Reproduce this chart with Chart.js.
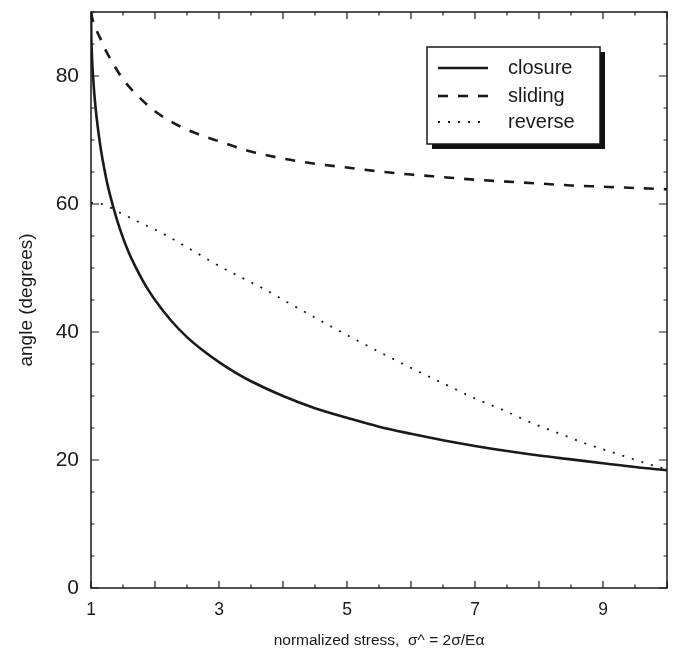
<!DOCTYPE html>
<html>
<head>
<meta charset="utf-8">
<script src="https://cdn.jsdelivr.net/npm/chart.js"></script>
<style>
  html, body { margin: 0; padding: 0; background: #fff; }
  #wrap { width: 677px; height: 654px; }
</style>
</head>
<body>
<div id="wrap"><canvas id="angleChart" width="677" height="654"></canvas></div>
<script>
// values
const closureX = [1, 1.005, 1.01, 1.02, 1.03, 1.05, 1.075, 1.1, 1.15, 1.2, 1.25, 1.3, 1.4, 1.5, 1.6, 1.7, 1.8, 1.9, 2,
  2.25, 2.5, 2.75, 3, 3.25, 3.5, 4, 4.5, 5, 5.5, 6, 6.5, 7, 7.5, 8, 8.5, 9, 9.5, 10];
const closureY = [90, 86, 84.3, 81.9, 80.2, 77.4, 74.7, 72.5, 68.8, 65.9, 63.4, 61.3, 57.7, 54.7, 52.2, 50.1, 48.2, 46.5, 45,
  41.8, 39.2, 37.1, 35.3, 33.7, 32.3, 30, 28.1, 26.6, 25.2, 24.1, 23.1, 22.2, 21.4, 20.7, 20.1, 19.5, 18.9, 18.4];

const slidingX = [1, 1.02, 1.07, 1.14, 1.23, 1.33, 1.5, 1.75, 2, 2.3, 2.6, 3, 3.5, 4, 4.5, 5, 5.5, 6, 6.5, 7, 7.5, 8, 8.5, 9, 9.5, 10];
const slidingY = [90, 89, 87.5, 86, 84, 82.2, 79.5, 76.7, 74.5, 72.6, 71.2, 69.8, 68.2, 67.1, 66.3, 65.7, 65.1, 64.6, 64.2, 63.8, 63.5, 63.2, 62.9, 62.7, 62.5, 62.3];

const reverseX = [1, 1.2, 1.5, 1.7, 2.1, 2.66, 3.06, 3.67, 4.06, 4.6, 5.06, 5.62, 6.16, 6.56, 6.98, 7.44, 7.86, 8.3, 8.75, 9.27, 9.7, 10];
const reverseY = [60.2, 59.9, 58.4, 57.4, 55.5, 52.3, 50, 46.9, 44.7, 41.7, 39.2, 36.3, 33.6, 31.7, 29.7, 27.8, 25.9, 24.2, 22.5, 20.8, 19.4, 18.5];

const seriesNames = ['closure', 'sliding', 'reverse'];
const xTickLabels = [1, 3, 5, 7, 9];
const yTickLabels = [0, 20, 40, 60, 80];
const xTitle = 'normalized stress,  \u03C3^ = 2\u03C3/E\u03B1';
const yTitle = 'angle (degrees)';

const ink = '#1a1a1a';
const fam = '"Liberation Sans", Arial, sans-serif';
const pairs = (xs, ys) => xs.map((x, i) => ({ x: x, y: ys[i] }));

// frame, inward ticks on four sides, boxed legend with shadow
const framePlugin = {
  id: 'frame',
  afterDatasetsDraw(chart) {
    const c = chart.ctx, a = chart.chartArea;
    const xs = chart.scales.x, ys = chart.scales.y;
    c.save();
    c.strokeStyle = ink;
    c.lineWidth = 1.5;
    c.strokeRect(a.left, a.top, a.right - a.left, a.bottom - a.top);
    c.lineWidth = 1.2;
    c.beginPath();
    for (let v = 1; v <= 10.001; v += 0.5) {
      const px = xs.getPixelForValue(v);
      const len = Number.isInteger(v) ? 7 : 3.5;
      c.moveTo(px, a.bottom); c.lineTo(px, a.bottom - len);
      c.moveTo(px, a.top); c.lineTo(px, a.top + len);
    }
    for (let v = 0; v <= 90; v += 5) {
      const py = ys.getPixelForValue(v);
      const len = v % 20 === 0 ? 8 : 3.5;
      c.moveTo(a.left, py); c.lineTo(a.left + len, py);
      c.moveTo(a.right, py); c.lineTo(a.right - len, py);
    }
    c.stroke();

    // legend
    const bx = 427, by = 47, bw = 173, bh = 97;
    c.fillStyle = '#111';
    c.fillRect(bx + 5, by + 5, bw, bh);
    c.fillStyle = '#fff';
    c.fillRect(bx, by, bw, bh);
    c.lineWidth = 1.5;
    c.strokeStyle = ink;
    c.strokeRect(bx, by, bw, bh);
    const rows = [68, 96, 122];
    c.font = '20px ' + fam;
    c.textBaseline = 'middle';
    chart.data.datasets.forEach((ds, i) => {
      c.strokeStyle = ds.borderColor;
      c.lineWidth = ds.borderWidth;
      c.setLineDash(ds.borderDash || []);
      c.beginPath();
      c.moveTo(438, rows[i]); c.lineTo(488, rows[i]);
      c.stroke();
      c.setLineDash([]);
      c.fillStyle = ink;
      c.fillText(ds.label, 508, rows[i]);
    });
    c.restore();
  }
};

const ctx = document.getElementById('angleChart').getContext('2d');
const angleChart = new Chart(ctx, {
  type: 'line',
  data: {
    datasets: [
      { label: seriesNames[0], data: pairs(closureX, closureY), borderColor: ink, borderWidth: 2.6 },
      { label: seriesNames[1], data: pairs(slidingX, slidingY), borderColor: ink, borderWidth: 2.6, borderDash: [10, 10] },
      { label: seriesNames[2], data: pairs(reverseX, reverseY), borderColor: ink, borderWidth: 1.8, borderDash: [2, 8] }
    ]
  },
  options: {
    responsive: false,
    animation: false,
    parsing: false,
    elements: {
      point: { radius: 0 },
      line: { cubicInterpolationMode: 'monotone', fill: false, borderCapStyle: 'butt' }
    },
    layout: { padding: { top: 12, right: 10, left: 0, bottom: 0 } },
    plugins: { legend: { display: false }, tooltip: { enabled: false } },
    scales: {
      x: {
        type: 'linear', min: 1, max: 10,
        grid: { display: false, drawTicks: false }, border: { display: false },
        afterBuildTicks: s => { s.ticks = xTickLabels.map(v => ({ value: v })); },
        ticks: {
          padding: 12, color: ink, maxRotation: 0,
          font: { family: fam, size: 17.5 }
        },
        title: {
          display: true, text: xTitle, color: ink,
          font: { family: fam, size: 15.5 },
          padding: { top: 0, bottom: 4 }
        },
        afterFit: s => { s.height = 66; s.paddingLeft = 0; s.paddingRight = 0; }
      },
      y: {
        type: 'linear', min: 0, max: 90,
        grid: { display: false, drawTicks: false }, border: { display: false },
        afterBuildTicks: s => { s.ticks = yTickLabels.map(v => ({ value: v })); },
        ticks: {
          padding: 12, color: ink,
          font: { family: fam, size: 21 }
        },
        title: {
          display: true, text: yTitle, color: ink,
          font: { family: fam, size: 19 },
          padding: { top: 15, bottom: 0 }
        },
        afterFit: s => { s.width = 91; s.paddingTop = 0; s.paddingBottom = 0; }
      }
    }
  },
  plugins: [framePlugin]
});
</script>
</body>
</html>
